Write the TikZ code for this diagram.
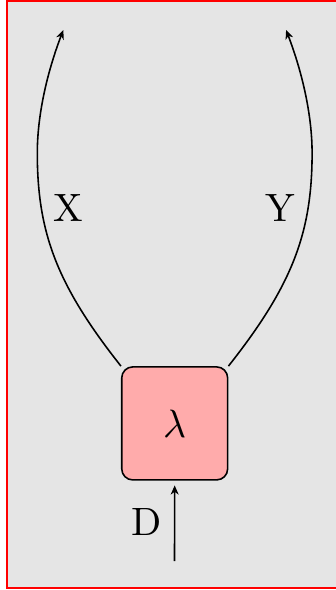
\documentclass[tikz,border=0pt]{standalone}
\usetikzlibrary{arrows.meta}
\begin{document}
\begin{tikzpicture}[x=0.253pt,y=-0.253pt,
  frame/.style={draw=red,line width=0.5pt,fill=gray!20},
  procbox/.style={draw,fill=red!33,rounded corners=2.8pt,minimum width=26.8pt,minimum height=28.6pt,inner sep=0pt},
  wire/.style={-{Stealth[length=2.3pt,width=2pt,inset=0.7pt]}},
  lbl/.style={inner sep=0pt}]
\useasboundingbox (0,0) rectangle (336,590);
\draw[frame] (7.3,1) rectangle (360,587.7);
\node[procbox] (box) at (174.7,423.4) {$\lambda$};
\coordinate (xtop) at (63.3,30);
\coordinate (xmid) at (37.3,153);
\coordinate (ytop) at (286.1,30);
\coordinate (ymid) at (312.1,153);
\coordinate (dbot) at (174.5,561);
\draw[wire] (box.north west) .. controls (57.1,285.3) and (37.3,233) .. (xmid)
  .. controls (37.3,117) and (46.2,74.8) .. (xtop);
\draw[wire] (box.north east) .. controls (292.3,285.3) and (312.1,233) .. (ymid)
  .. controls (312.1,117) and (303.2,74.8) .. (ytop);
\draw[wire,shorten >=1.2pt] (dbot) -- (box.south);
\node[lbl] (xl) at (68,208) {X};
\node[lbl] (yl) at (280,208) {Y};
\node[lbl] (dl) at (147,522) {D};
\end{tikzpicture}
\end{document}
